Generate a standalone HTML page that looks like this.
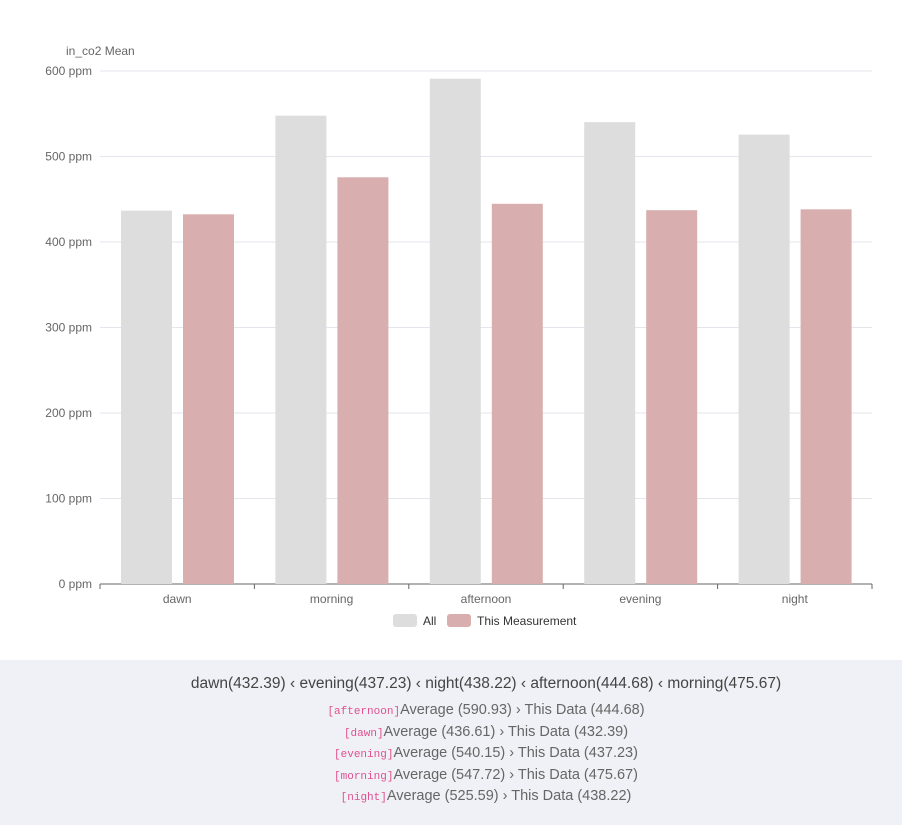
<!DOCTYPE html>
<html><head><meta charset="utf-8"><style>
body{margin:0;width:902px;height:825px;background:#fff;font-family:"Liberation Sans",sans-serif;overflow:hidden}
#panel{position:absolute;left:0;top:660px;width:902px;height:165px;background:#eff1f6;text-align:center;color:#555}
.h{position:absolute;top:15px;left:35px;width:902px;font-size:15.5px;color:#444}
.l{position:absolute;left:35px;width:902px;font-size:14.5px;color:#666}
.t{font-family:"Liberation Mono",monospace;font-size:11px;color:#e0508f}
</style></head><body>
<svg id="chart" width="902" height="660" style="position:absolute;left:0;top:0"></svg>
<div id="panel">
<div class="h">dawn(432.39) ‹ evening(437.23) ‹ night(438.22) ‹ afternoon(444.68) ‹ morning(475.67)</div>
<div class="l" style="top:42px"><span class="t">[afternoon]</span>Average (590.93) › This Data (444.68)</div>
<div class="l" style="top:64px"><span class="t">[dawn]</span>Average (436.61) › This Data (432.39)</div>
<div class="l" style="top:85px"><span class="t">[evening]</span>Average (540.15) › This Data (437.23)</div>
<div class="l" style="top:107px"><span class="t">[morning]</span>Average (547.72) › This Data (475.67)</div>
<div class="l" style="top:128px"><span class="t">[night]</span>Average (525.59) › This Data (438.22)</div>
</div>
<script>
const categories=["dawn","morning","afternoon","evening","night"];
const allValues=[436.61,547.72,590.93,540.15,525.59];
const thisValues=[432.39,475.67,444.68,437.23,438.22];
const yTicks=[0,100,200,300,400,500,600];
const svg=document.getElementById('chart');
const NS='http://www.w3.org/2000/svg';
const X0=100,X1=872,Y0=584,Y1=71,YMAX=600;
const y=v=>Y0-(v/YMAX)*(Y0-Y1);
const bw=(X1-X0)/categories.length;
function el(t,a,txt){const e=document.createElementNS(NS,t);for(const k in a)e.setAttribute(k,a[k]);if(txt!=null)e.textContent=txt;svg.appendChild(e);return e;}
yTicks.forEach(v=>{
 const g=el('line',{x1:X0,x2:X1,y1:y(v),y2:y(v),stroke:v===0?'#666':'#e3e6ec','stroke-width':1});
 
 
 const t=el('text',{x:92,y:y(v)+4,'text-anchor':'end','font-size':12,fill:'#666'},v+' ppm');
 
 
});
const yt=el('text',{x:66,y:55,'font-size':12,fill:'#666'},'in_co2 Mean');


for(let i=0;i<=categories.length;i++){
 const tk=el('line',{x1:X0+i*bw,x2:X0+i*bw,y1:Y0,y2:Y0+5,stroke:'#666'});
 
 
}
categories.forEach((c,i)=>{
 const cx=X0+i*bw;
 const a=el('rect',{x:cx+21,y:y(allValues[i]),width:51,height:Y0-y(allValues[i]),fill:'#dddddd'});
 
 
 const b=el('rect',{x:cx+83,y:y(thisValues[i]),width:51,height:Y0-y(thisValues[i]),fill:'#d9aeae'});
 
 
 const t=el('text',{x:cx+bw/2,y:603,'text-anchor':'middle','font-size':12,fill:'#666'},c);
 
 
});
const l1=el('rect',{x:393,y:614,width:24,height:13,rx:3,fill:'#dddddd'});


const lt1=el('text',{x:423,y:625,'font-size':12,fill:'#333'},'All');


const l2=el('rect',{x:447,y:614,width:24,height:13,rx:3,fill:'#d9aeae'});


const lt2=el('text',{x:477,y:625,'font-size':12,fill:'#333'},'This Measurement');


</script>
</body></html>
